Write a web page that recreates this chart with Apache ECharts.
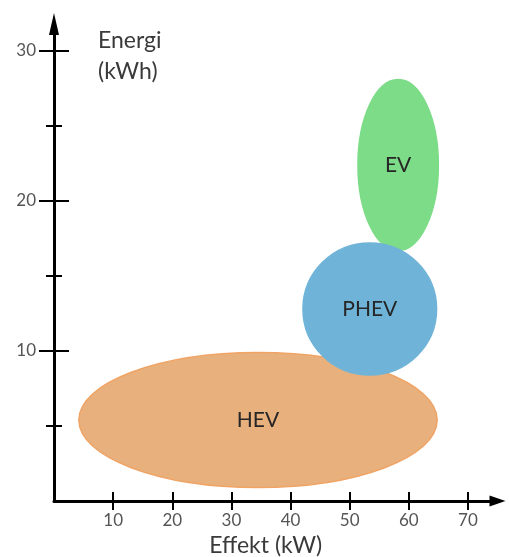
<!DOCTYPE html>
<html>
<head>
<meta charset="utf-8">
<script src="https://cdn.jsdelivr.net/npm/echarts@6/dist/echarts.min.js"></script>
<style>
  html, body { margin: 0; padding: 0; background: #fff; }
  #chart { width: 509px; height: 557px; }
</style>
</head>
<body>
<div id="chart"></div>
<script>
// ---- data ----
const categories = ['HEV', 'EV', 'PHEV'];
const centerX = [34.5, 58.2, 53.4];   // Effekt (kW)
const centerY = [5.4, 22.4, 12.8];    // Energi (kWh)
const radiusX = [30.3, 6.8, 11.3];    // kW
const radiusY = [4.5, 5.7, 4.4];      // kWh
const xTicks = [10, 20, 30, 40, 50, 60, 70];
const yTicks = [10, 20, 30];
const yMinorTicks = [5, 15, 25];

// ---- styles ----
const fills = ['#E8B07C', '#7CDC87', '#6FB4D8'];
const strokes = ['#F0A466', '#7CDC87', '#6FB4D8'];
const FONT = 'Lato';

const chart = echarts.init(document.getElementById('chart'), null, { renderer: 'canvas' });

function renderItem(params, api) {
  const i = params.dataIndex;
  const c = api.coord([api.value(0), api.value(1)]);
  const s = api.size([api.value(2), api.value(3)]);
  return {
    type: 'ellipse',
    shape: { cx: c[0], cy: c[1], rx: s[0], ry: s[1] },
    style: { fill: fills[i], stroke: strokes[i], lineWidth: 1.5 },
    textContent: {
      type: 'text',
      style: { text: categories[i], fontSize: 21, fontFamily: FONT, fill: '#262626' }
    },
    textConfig: { position: 'inside' }
  };
}

const X_MAX = 75, Y_MAX = 31.8;
const axisLineStyle = { color: '#000', width: 3 };
const tickLine = { color: '#000', width: 2 };

const baseX = {
  type: 'value', min: 0, max: X_MAX, position: 'bottom',
  splitLine: { show: false }
};
const baseY = {
  type: 'value', min: 0, max: Y_MAX, position: 'left',
  splitLine: { show: false }
};

const option = {
  animation: false,
  backgroundColor: '#fff',
  grid: { left: 54, top: 24, right: 11.5, bottom: 56, containLabel: false, outerBoundsMode: 'none' },
  xAxis: [
    Object.assign({}, baseX, {
      axisLine: { show: true, onZero: false, lineStyle: axisLineStyle, symbol: ['none', 'triangle'], symbolSize: [11, 16] },
      axisTick: { show: true, customValues: xTicks, length: 9, lineStyle: tickLine },
      axisLabel: { show: true, customValues: xTicks, margin: 11, fontSize: 17, fontFamily: FONT, color: '#555' },
      name: 'Effekt (kW)', nameLocation: 'middle', nameGap: 30,
      nameTextStyle: { fontSize: 23, fontFamily: FONT, color: '#3a3a3a', padding: [0, 20, 0, 0] }
    }),
    Object.assign({}, baseX, {
      axisLine: { show: false, onZero: false },
      axisTick: { show: true, inside: true, customValues: xTicks, length: 9, lineStyle: tickLine },
      axisLabel: { show: false }
    })
  ],
  yAxis: [
    Object.assign({}, baseY, {
      axisLine: { show: true, onZero: false, lineStyle: axisLineStyle, symbol: ['none', 'triangle'], symbolSize: [10, 22] },
      axisTick: { show: true, customValues: yTicks, length: 15, lineStyle: tickLine },
      axisLabel: { show: true, customValues: yTicks, margin: 18, fontSize: 17, fontFamily: FONT, color: '#555' },
      name: 'Energi\n(kWh)', nameLocation: 'end', nameGap: -1,
      nameTextStyle: { fontSize: 23, fontFamily: FONT, color: '#3a3a3a', align: 'left', verticalAlign: 'top', lineHeight: 31, padding: [0, 0, 0, 44] }
    }),
    Object.assign({}, baseY, {
      axisLine: { show: false, onZero: false },
      axisTick: { show: true, inside: true, customValues: yTicks, length: 15, lineStyle: tickLine },
      axisLabel: { show: false }
    }),
    Object.assign({}, baseY, {
      axisLine: { show: false, onZero: false },
      axisTick: { show: true, customValues: yMinorTicks, length: 8, lineStyle: tickLine },
      axisLabel: { show: false }
    }),
    Object.assign({}, baseY, {
      axisLine: { show: false, onZero: false },
      axisTick: { show: true, inside: true, customValues: yMinorTicks, length: 8, lineStyle: tickLine },
      axisLabel: { show: false }
    })
  ],
  series: [{
    type: 'custom',
    xAxisIndex: 0,
    yAxisIndex: 0,
    renderItem: renderItem,
    encode: { x: 0, y: 1 },
    data: categories.map((c, i) => [centerX[i], centerY[i], radiusX[i], radiusY[i]])
  }]
};

chart.setOption(option);
</script>
</body>
</html>
